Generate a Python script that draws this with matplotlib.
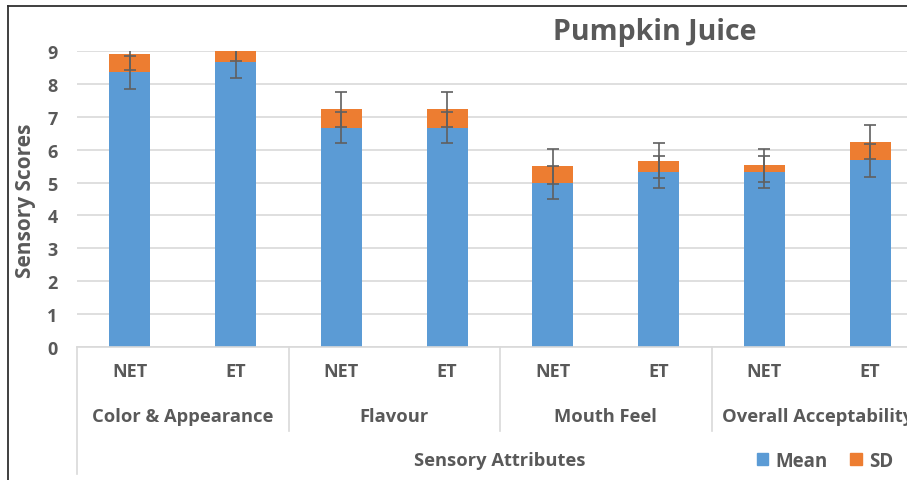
import numpy as np
import matplotlib.pyplot as plt
from matplotlib.patches import Patch
from matplotlib.lines import Line2D
import matplotlib.transforms as mtransforms

plt.rcParams['font.family'] = ['Open Sans', 'DejaVu Sans']

# Data
groups = ['Color & Appearance', 'Flavour', 'Mouth Feel', 'Overall Acceptability']
treatments = ['NET', 'ET']
mean_vals = [8.35, 8.66, 6.67, 6.67, 5.00, 5.32, 5.32, 5.68]
sd_vals = [0.56, 0.52, 0.56, 0.56, 0.49, 0.35, 0.20, 0.56]
mean_err = [0.50, 0.47, 0.48, 0.48, 0.50, 0.50, 0.50, 0.50]
sd_err = [0.50, 0.47, 0.53, 0.53, 0.52, 0.53, 0.50, 0.52]

blue = '#5B9BD5'
orange = '#ED7D31'
txt = '#595959'
grid = '#D9D9D9'

W, H = 907, 481
fig = plt.figure(figsize=(W / 100, H / 100), dpi=100)
# axes spans past the right edge (source image is cropped)
ax = fig.add_axes([77 / W, 133 / H, 846 / W, 296 / H])

x = np.arange(len(mean_vals))
tops = np.array(mean_vals) + np.array(sd_vals)
ax.bar(x, mean_vals, width=0.39, color=blue, zorder=2)
ax.bar(x, sd_vals, width=0.39, bottom=mean_vals, color=orange, zorder=2)
ax.errorbar(x, mean_vals, yerr=mean_err, fmt='none', ecolor='#606060',
            elinewidth=1.2, capsize=4.5, capthick=1.2, zorder=3)
ax.errorbar(x, tops, yerr=sd_err, fmt='none', ecolor='#606060',
            elinewidth=1.2, capsize=4.5, capthick=1.2, zorder=3)

ax.set_xlim(-0.5, 7.5)
ax.set_ylim(0, 9)
ax.set_yticks(range(10))
ax.yaxis.grid(True, color=grid, linewidth=1.2, zorder=0)
ax.set_axisbelow(True)
for s in ['top', 'right', 'left']:
    ax.spines[s].set_visible(False)
ax.spines['bottom'].set_color(grid)
ax.spines['bottom'].set_linewidth(1.2)
ax.tick_params(axis='y', length=0, pad=14, labelsize=13, labelcolor=txt)
for t in ax.get_yticklabels():
    t.set_fontweight('bold')

ax.set_xticks(x)
ax.set_xticklabels(treatments * len(groups), fontsize=13, fontweight='bold', color=txt)
ax.tick_params(axis='x', length=0, pad=11)

trans = mtransforms.blended_transform_factory(ax.transData, ax.transAxes)
for i, g in enumerate(groups):
    ax.text(2 * i + 0.5, -0.233, g, transform=trans, ha='center', va='center',
            fontsize=13.2, fontweight='bold', color=txt, clip_on=False)
for b in [1.5, 3.5, 5.5]:
    ax.plot([b, b], [0, -0.284], transform=trans, color=grid, lw=1.2, clip_on=False)
ax.plot([-0.5, -0.5], [0, -0.429], transform=trans, color=grid, lw=1.2, clip_on=False)
ax.text(3.5, -0.382, 'Sensory Attributes', transform=trans, ha='center', va='center',
        fontsize=13.2, fontweight='bold', color=txt, clip_on=False)

fig.text(26 / W, (H - 201) / H, 'Sensory Scores', rotation=90, ha='center', va='center',
         fontsize=15, fontweight='bold', color=txt)
fig.text(655 / W, (H - 33) / H, 'Pumpkin Juice', ha='center', va='center',
         fontsize=20.5, fontweight='bold', color=txt)

handles = [Patch(color=blue, label='Mean'), Patch(color=orange, label='SD')]
leg = fig.legend(handles=handles, loc='center left', bbox_to_anchor=(740 / W, 19 / H),
                 ncol=2, frameon=False, handlelength=0.6, handleheight=0.6,
                 handletextpad=0.4, columnspacing=1.2, prop={'size': 13.5, 'weight': 'bold'})
for t in leg.get_texts():
    t.set_color(txt)

# chart border (only left and top visible in the crop)
fig.add_artist(Line2D([8 / W, 8 / W], [0, (H - 7) / H], color='#303030', lw=1.3))
fig.add_artist(Line2D([8 / W, 1], [(H - 7) / H, (H - 7) / H], color='#303030', lw=1.3))

fig.savefig('out.png', dpi=100)
